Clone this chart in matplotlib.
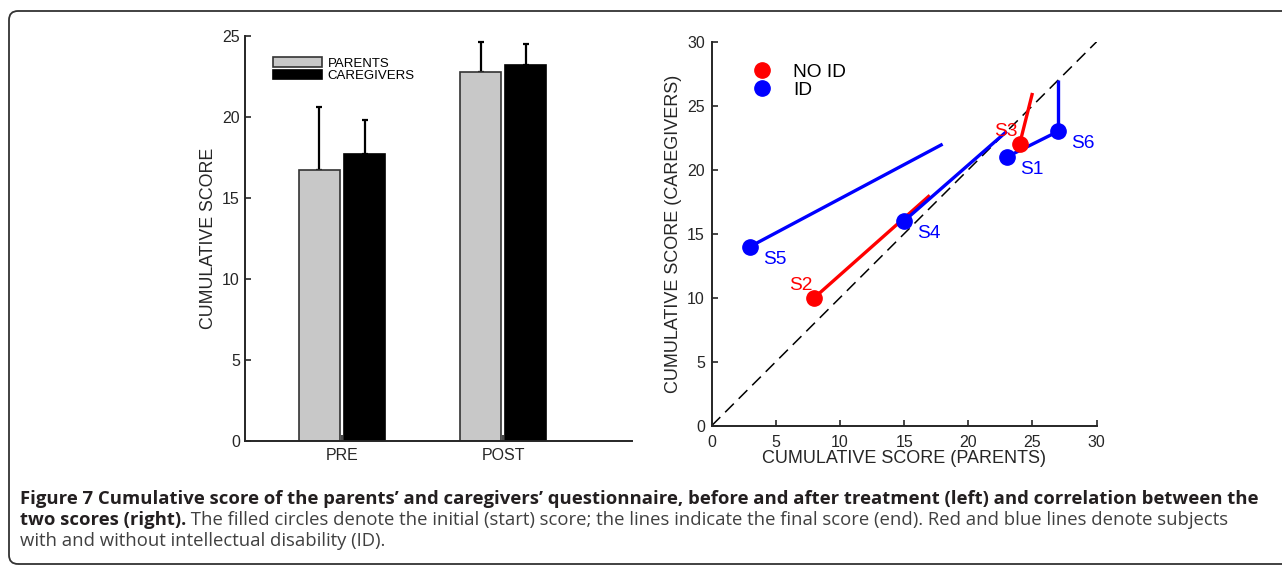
import matplotlib.pyplot as plt
from matplotlib.patches import FancyBboxPatch
from matplotlib.lines import Line2D
from matplotlib.transforms import IdentityTransform
import numpy as np

plt.rcParams['font.family'] = ['Liberation Sans', 'DejaVu Sans']

# --- dados ---

# painel esquerdo: escore medio (so a barra de erro superior)
fases = ['PRE', 'POST']
media_pais = [16.7, 22.8]
erro_pais = [3.9, 1.8]
media_cuidadores = [17.7, 23.2]
erro_cuidadores = [2.1, 1.3]

# painel direito: inicio (circulo) e fim (linha) de cada sujeito
sujeitos = ['S1', 'S2', 'S3', 'S4', 'S5', 'S6']
grupo = ['ID', 'NO ID', 'NO ID', 'ID', 'ID', 'ID']
pais_inicio = [23, 8, 24, 15, 3, 27]
cuid_inicio = [21, 10, 22, 16, 14, 23]
pais_fim = [27, 17, 25, 23, 18, 27]
cuid_fim = [23, 18, 26, 23, 22, 27]

cores = {'NO ID': '#ff0000', 'ID': '#0000ff'}
eixo_cor = '#262626'

fig = plt.figure(figsize=(12.82, 5.65), dpi=100)

# --- painel esquerdo ---
ax1 = fig.add_axes([0.1911, 0.22, 0.3019, 0.7163])
x = np.arange(1, len(fases) + 1)
w = 0.255
d = 0.14
ax1.bar(x - d, media_pais, w, color='#c8c8c8', edgecolor='#333333', linewidth=1.2,
        label='PARENTS', zorder=2)
ax1.bar(x + d, media_cuidadores, w, color='black', edgecolor='black', linewidth=1.2,
        label='CAREGIVERS', zorder=2)
ax1.errorbar(x - d, media_pais, yerr=[np.zeros(2), erro_pais], fmt='none',
             ecolor='black', elinewidth=1.6, capsize=2, capthick=1.6, zorder=1)
ax1.errorbar(x + d, media_cuidadores, yerr=[np.zeros(2), erro_cuidadores], fmt='none',
             ecolor='black', elinewidth=1.6, capsize=2, capthick=1.6, zorder=1)
ax1.set_xlim(0.398, 2.80)
ax1.set_ylim(0, 25)
ax1.set_yticks([0, 5, 10, 15, 20, 25])
ax1.set_xticks(x)
ax1.set_xticklabels(fases)
ax1.set_ylabel('CUMULATIVE SCORE', fontsize=12.8, color=eixo_cor)
ax1.legend(loc='upper left', bbox_to_anchor=(0.06, 0.96), frameon=False,
           fontsize=9.5, handlelength=3.7, handleheight=0.68, labelspacing=0.0,
           handletextpad=0.4, borderaxespad=0)
ax1.tick_params(axis='x', pad=5.5)
ax1.tick_params(axis='y', pad=3.6)

# --- painel direito ---
ax2 = fig.add_axes([0.5551, 0.2465, 0.3003, 0.6796])
ax2.plot([0, 30], [0, 30], color='black', linestyle=(0, (8, 4.5)), linewidth=1.1)
for i, s in enumerate(sujeitos):
    c = cores[grupo[i]]
    ax2.plot([pais_inicio[i], pais_fim[i]], [cuid_inicio[i], cuid_fim[i]],
             color=c, linewidth=2.4, solid_capstyle='butt')
    ax2.plot(pais_inicio[i], cuid_inicio[i], 'o', color=c, markersize=11)
    if s in ('S2', 'S3'):
        ax2.annotate(s, (pais_inicio[i], cuid_inicio[i]), xytext=(-1.5, 9),
                     textcoords='offset points', ha='right', va='center',
                     color=c, fontsize=13.8)
    else:
        ax2.annotate(s, (pais_inicio[i], cuid_inicio[i]), xytext=(9.5, -9),
                     textcoords='offset points', ha='left', va='center',
                     color=c, fontsize=13.8)
ax2.set_xlim(0, 30)
ax2.set_ylim(0, 30)
ax2.set_xticks(range(0, 31, 5))
ax2.set_yticks(range(0, 31, 5))
ax2.set_xlabel('CUMULATIVE SCORE (PARENTS)', fontsize=13, color=eixo_cor, labelpad=0)
ax2.set_ylabel('CUMULATIVE SCORE (CAREGIVERS)', fontsize=13, color=eixo_cor)
alcas = [Line2D([], [], marker='o', linestyle='none', color=cores[g], markersize=11)
         for g in ['NO ID', 'ID']]
ax2.legend(alcas, ['NO ID', 'ID'], loc='upper left', bbox_to_anchor=(0.087, 0.963),
           frameon=False, fontsize=13.8, handlelength=1.0, handletextpad=1.1,
           labelspacing=0.02, borderaxespad=0)
ax2.tick_params(axis='x', pad=6.5)
ax2.tick_params(axis='y', pad=4.8)

for ax in (ax1, ax2):
    for lado in ('top', 'right'):
        ax.spines[lado].set_visible(False)
    for lado in ('left', 'bottom'):
        ax.spines[lado].set_linewidth(1.4)
        ax.spines[lado].set_color(eixo_cor)
    ax.tick_params(direction='in', length=4, width=1.2, color=eixo_cor,
                   labelsize=11.5, labelcolor=eixo_cor)

# --- legenda da figura ---
tam = 13.3
cap = dict(family=['Open Sans', 'DejaVu Sans'], fontsize=tam, va='baseline')
fig.text(20 / 1282, 1 - 504 / 565,
         'Figure 7 Cumulative score of the parents\u2019 and caregivers\u2019 questionnaire, '
         'before and after treatment (left) and correlation between the',
         fontweight='bold', color='#231f20', **cap)
t2 = fig.text(20 / 1282, 1 - 525 / 565, 'two scores (right).',
              fontweight='bold', color='#231f20', **cap)
ax1.annotate(' The filled circles denote the initial (start) score; the lines indicate the '
             'final score (end). Red and blue lines denote subjects',
             xy=(1, 0), xycoords=t2, va='bottom', ha='left', color='#404040',
             family=['Open Sans', 'DejaVu Sans'], fontsize=tam, annotation_clip=False)
fig.text(20 / 1282, 1 - 546 / 565, 'with and without intellectual disability (ID).',
         color='#404040', **cap)

# moldura arredondada
fig.patches.append(FancyBboxPatch((9, 1), 1300, 553, boxstyle='round,pad=0,rounding_size=9',
                                  transform=IdentityTransform(), facecolor='none',
                                  edgecolor='#333333', linewidth=1.3, figure=fig))

fig.savefig('out.png', dpi=100)
